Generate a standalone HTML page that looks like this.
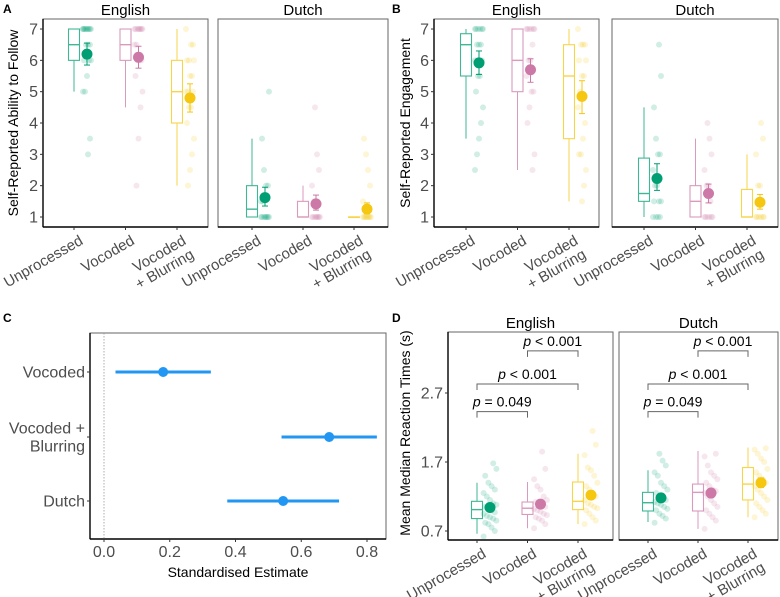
<!DOCTYPE html>
<html><head><meta charset="utf-8"><style>
body{margin:0;background:#fff}
svg{display:block;font-family:"Liberation Sans",Arial,sans-serif}
</style></head><body>
<svg id="fig" width="780" height="597" viewBox="0 0 780 597"></svg>
<script>
// ---- Data ----
const conditions = ["Unprocessed","Vocoded","Vocoded|+ Blurring"];
const languages = ["English","Dutch"];
// Panel A (English x3, Dutch x3)
const aQ1 = [6,6,4, 1,1,1];
const aMed = [6.5,6.5,5, 1.25,1,1];
const aQ3 = [7,7,6, 2,1.5,1];
const aLo = [5,4.5,2, 1,1,1];
const aHi = [7,7,7, 3.5,2,1];
const aMean = [6.2,6.1,4.8, 1.62,1.42,1.25];
const aErrLo = [5.85,5.75,4.35, 1.35,1.22,1.1];
const aErrHi = [6.55,6.45,5.25, 1.95,1.7,1.45];
const aPts = [
 [7,7,7,7,7,7,7,7,7,7,6.5,6.5,6.5,6,6,6,5.5,5,5,3.5,3],
 [7,7,7,7,7,7,7,7,6.5,6.5,6,6,6,5.5,5,4.5,3.5,2],
 [7,6.5,6.5,6,6,6,5.5,5.5,5,5,5,4.5,4.5,4,3.5,3,2.5,2],
 [1,1,1,1,1,1,1,1,1.5,1.5,2,2,2.5,3.5,5],
 [1,1,1,1,1,1,1,1,1.5,2,2.5,3,4.5],
 [1,1,1,1,1,1,1,1,1,1.5,2,2.5,3,3.5]
];
// Panel B
const bQ1 = [5.5,5,3.5, 1.5,1,1];
const bMed = [6.5,6,5.5, 1.75,1.5,1];
const bQ3 = [6.85,7,6.5, 2.88,2,1.88];
const bLo = [3.5,2.5,1.5, 1,1,1];
const bHi = [7,7,7, 4.5,3.5,3];
const bMean = [5.92,5.7,4.85, 2.23,1.75,1.47];
const bErrLo = [5.55,5.3,4.3, 1.85,1.45,1.25];
const bErrHi = [6.3,6.05,5.35, 2.7,2.05,1.72];
const bPts = [
 [7,7,7,7,7,7,6.5,6.5,6.5,6,6,5.5,5.5,5,4.5,4,3.5,3,2.5],
 [7,7,7,7,7,7,6.5,6,6,5.5,5,5,4.5,4,3,2.5],
 [7,6.5,6.5,6.5,6,6,5.5,5.5,5,4.5,4,3.5,3,3,2.5,2,1.5],
 [1,1,1,1,1.5,1.5,1.5,2,2,2.5,3,3,3.5,4.5,5.5,6.5],
 [1,1,1,1,1,1,1.5,2,2,2.5,3,3.5,4],
 [1,1,1,1,1,1,1.5,2,2,3,3.5,4]
];
// Panel C
const cTerms = ["Vocoded","Vocoded +|Blurring","Dutch"];
const cEst = [0.18,0.685,0.545];
const cLo = [0.035,0.54,0.375];
const cHi = [0.325,0.83,0.715];
const cTicks = [0,0.2,0.4,0.6,0.8];
// Panel D
const dQ1 = [0.88,0.94,1.01, 0.99,0.99,1.15];
const dMed = [1.01,1.03,1.13, 1.11,1.26,1.38];
const dQ3 = [1.13,1.12,1.41, 1.26,1.38,1.62];
const dLo = [0.66,0.74,0.80, 0.83,0.73,0.90];
const dHi = [1.40,1.41,1.82, 1.58,1.86,1.91];
const dMean = [1.04,1.09,1.22, 1.18,1.25,1.40];
const dErrLo = [0.99,1.04,1.16, 1.13,1.19,1.33];
const dErrHi = [1.09,1.14,1.28, 1.23,1.31,1.47];
const dPts = [
 [0.62,0.7,0.75,0.8,0.82,0.85,0.88,0.9,0.92,0.95,0.97,1.0,1.02,1.05,1.08,1.1,1.15,1.2,1.25,1.3,1.35,1.4,1.5,1.6,1.68],
 [0.74,0.8,0.85,0.88,0.9,0.93,0.95,0.98,1.0,1.02,1.05,1.08,1.1,1.12,1.15,1.2,1.3,1.35,1.45,1.6,1.85],
 [0.8,0.85,0.9,0.95,1.0,1.03,1.05,1.08,1.1,1.15,1.2,1.25,1.3,1.35,1.4,1.5,1.58,1.62,1.8,1.95,2.15],
 [0.82,0.88,0.92,0.95,1.0,1.02,1.05,1.08,1.1,1.12,1.15,1.18,1.2,1.25,1.3,1.35,1.4,1.5,1.55,1.65,1.72,1.82],
 [0.73,0.85,0.9,0.95,1.0,1.05,1.1,1.15,1.2,1.25,1.28,1.3,1.35,1.4,1.45,1.5,1.55,1.65,1.78,1.82],
 [0.9,0.95,1.0,1.05,1.1,1.15,1.2,1.25,1.3,1.35,1.4,1.45,1.5,1.55,1.6,1.7,1.75,1.82,1.88,1.9]
];
const dTicks = [0.7,1.7,2.7];
const dSig = [{a:0,b:1,label:"= 0.049",v:2.43},{a:0,b:2,label:"< 0.001",v:2.83},{a:1,b:2,label:"< 0.001",v:3.31}];

// ---- Drawing ----
const NS="http://www.w3.org/2000/svg";
const svg=document.getElementById('fig');
const COLS=["#009E73","#CC79A7","#F5C710"];
function el(tag,attrs,parent,text){const e=document.createElementNS(NS,tag);for(const k in attrs)e.setAttribute(k,attrs[k]);if(text!==undefined)e.textContent=text;(parent||svg).appendChild(e);return e;}

function panelLabel(t,x,y){const e=el('text',{x:x,y:y,'font-size':12,'font-weight':'bold'},svg,t);

}
panelLabel('A',3,13);panelLabel('B',392,13);panelLabel('C',3,322);panelLabel('D',392,322);

function catLabel(g,x,y,name){
  const t=el('text',{transform:`translate(${x+4},${y+6}) rotate(-30)`,'text-anchor':'end','font-size':15,fill:'#4d4d4d'},g);
  
  
  const parts=name.split('|');
  parts.forEach((p,i)=>{el('tspan',{x:0,y:12+i*16},t,p);});
}

function boxPanel(cfg){
  const g=el('g',{},svg);
  
  
  const Y=cfg.y;
  cfg.facets.forEach((f,fi)=>{
    const fg=el('g',{},g);
    
    
    const st=el('text',{x:(f.x0+f.x1)/2,y:cfg.stripY,'text-anchor':'middle','font-size':15},fg,languages[fi]);
    
    
    el('rect',{x:f.x0,y:cfg.top,width:f.x1-f.x0,height:cfg.bot-cfg.top,fill:'none',stroke:'#666','stroke-width':1},fg);
    el('line',{x1:f.x0,y1:cfg.bot,x2:f.x1,y2:cfg.bot,stroke:'#000','stroke-width':1.4},fg);
    if(fi===0){
      el('line',{x1:f.x0,y1:cfg.top,x2:f.x0,y2:cfg.bot,stroke:'#000','stroke-width':1.4},fg);
      cfg.ticks.forEach(v=>{
        el('line',{x1:f.x0-3,y1:Y(v),x2:f.x0,y2:Y(v),stroke:'#333'},fg);
        const tl=el('text',{x:f.x0-5,y:Y(v)+5.5,'text-anchor':'end','font-size':16,fill:'#4d4d4d'},fg,cfg.tickFmt(v));
        
        
      });
    }
    for(let c=0;c<3;c++){
      const i=fi*3+c, cx=f.x0+f.off+c*f.sp, col=COLS[c], px=cx+13;
      el('line',{x1:cx,y1:cfg.bot,x2:cx,y2:cfg.bot+3,stroke:'#333'},fg);
      catLabel(fg,cx,cfg.bot,conditions[c]);
      const bw=11;
      const bg=el('g',{opacity:0.75},fg);
      
      
      el('line',{x1:cx,y1:Y(cfg.hi[i]),x2:cx,y2:Y(cfg.q3[i]),stroke:col},bg);
      el('line',{x1:cx,y1:Y(cfg.q1[i]),x2:cx,y2:Y(cfg.lo[i]),stroke:col},bg);
      el('rect',{x:cx-bw/2,y:Y(cfg.q3[i]),width:bw,height:Math.max(0.5,Y(cfg.q1[i])-Y(cfg.q3[i])),fill:'none',stroke:col,'stroke-width':1.1},bg);
      el('line',{x1:cx-bw/2,y1:Y(cfg.med[i]),x2:cx+bw/2,y2:Y(cfg.med[i]),stroke:col,'stroke-width':1.4},bg);
      cfg.pts[i].forEach((v,k)=>{
        const jx=((k*7)%9-4)*cfg.jit;
        const p=el('circle',{cx:px+jx,cy:Y(v),r:3,fill:col,'fill-opacity':0.18},fg);
        
        
      });
      el('line',{x1:px,y1:Y(cfg.eLo[i]),x2:px,y2:Y(cfg.eHi[i]),stroke:col},fg);
      el('line',{x1:px-3,y1:Y(cfg.eLo[i]),x2:px+3,y2:Y(cfg.eLo[i]),stroke:col},fg);
      el('line',{x1:px-3,y1:Y(cfg.eHi[i]),x2:px+3,y2:Y(cfg.eHi[i]),stroke:col},fg);
      const m=el('circle',{cx:px,cy:Y(cfg.mean[i]),r:5.5,fill:col},fg);
      
      
    }
    if(cfg.sig){
      cfg.sig.forEach(s=>{
        const xa=f.x0+f.off+s.a*f.sp, xb=f.x0+f.off+s.b*f.sp, yy=Y(s.v);
        const sg=el('g',{},fg);
        
        
        el('path',{d:`M${xa},${yy+6}V${yy}H${xb}V${yy+6}`,fill:'none',stroke:'#666'},sg);
        const t=el('text',{x:(xa+xb)/2,y:yy-5,'text-anchor':'middle','font-size':14},sg);
        el('tspan',{'font-style':'italic'},t,'p');
        el('tspan',{},t,' '+s.label);
      });
    }
  });
  const yt=el('text',{transform:`translate(${cfg.ylabX},${cfg.ylabY}) rotate(-90)`,'text-anchor':'middle','font-size':14},g,cfg.ylab);
  
  
}

const Y7=v=>217-(v-1)*31.33;
boxPanel({name:'panel-a',y:Y7,top:19,bot:227,stripY:15,ticks:[1,2,3,4,5,6,7],tickFmt:v=>String(v),
  facets:[{x0:43,x1:208,off:31,sp:51.5},{x0:218,x1:388,off:34,sp:51}],
  q1:aQ1,med:aMed,q3:aQ3,lo:aLo,hi:aHi,mean:aMean,eLo:aErrLo,eHi:aErrHi,pts:aPts,jit:1,
  ylab:'Self-Reported Ability to Follow',ylabX:18,ylabY:123});
boxPanel({name:'panel-b',y:Y7,top:19,bot:227,stripY:15,ticks:[1,2,3,4,5,6,7],tickFmt:v=>String(v),
  facets:[{x0:434,x1:599,off:32,sp:51.5},{x0:612,x1:778,off:32,sp:51.5}],
  q1:bQ1,med:bMed,q3:bQ3,lo:bLo,hi:bHi,mean:bMean,eLo:bErrLo,eHi:bErrHi,pts:bPts,jit:1,
  ylab:'Self-Reported Engagement',ylabX:410,ylabY:123});
const YD=v=>531-(v-0.7)*69;
boxPanel({name:'panel-d',y:YD,top:332,bot:540,stripY:328,ticks:dTicks,tickFmt:v=>v.toFixed(1),
  facets:[{x0:448,x1:613,off:29,sp:50.5},{x0:619,x1:778,off:29,sp:50}],
  q1:dQ1,med:dMed,q3:dQ3,lo:dLo,hi:dHi,mean:dMean,eLo:dErrLo,eHi:dErrHi,pts:dPts,jit:1.6,sig:dSig,
  ylab:'Mean Median Reaction Times (s)',ylabX:410,ylabY:433});

// Panel C
(function(){
  const g=el('g',{},svg);
  
  
  const X=v=>104+v*328.75, rowY=[372,437,501];
  el('rect',{x:90,y:333,width:296,height:206,fill:'none',stroke:'#666'},g);
  el('line',{x1:90,y1:333,x2:90,y2:539,stroke:'#000','stroke-width':1.4},g);
  el('line',{x1:90,y1:539,x2:386,y2:539,stroke:'#000','stroke-width':1.4},g);
  el('line',{x1:X(0),y1:333,x2:X(0),y2:539,stroke:'#999','stroke-dasharray':'1.5,1.5','stroke-width':0.8},g);
  cTicks.forEach(v=>{
    el('line',{x1:X(v),y1:539,x2:X(v),y2:542,stroke:'#333'},g);
    const t=el('text',{x:X(v),y:557,'text-anchor':'middle','font-size':16,fill:'#4d4d4d'},g,v.toFixed(1));
    
    
  });
  cTerms.forEach((term,i)=>{
    const y=rowY[i];
    el('line',{x1:87,y1:y,x2:90,y2:y,stroke:'#333'},g);
    const parts=term.split('|');
    const t=el('text',{'text-anchor':'end','font-size':16,fill:'#4d4d4d'},g);
    
    
    parts.forEach((p,k)=>el('tspan',{x:85,y:y+5.5+(k-(parts.length-1)/2)*18},t,p));
    const ln=el('line',{x1:X(cLo[i]),y1:y,x2:X(cHi[i]),y2:y,stroke:'#2196F3','stroke-width':3},g);
    
    
    const c=el('circle',{cx:X(cEst[i]),cy:y,r:5,fill:'#2196F3'},g);
    
    
  });
  const xt=el('text',{x:238,y:577,'text-anchor':'middle','font-size':14},g,'Standardised Estimate');
  
  
})();
</script>
</body></html>
